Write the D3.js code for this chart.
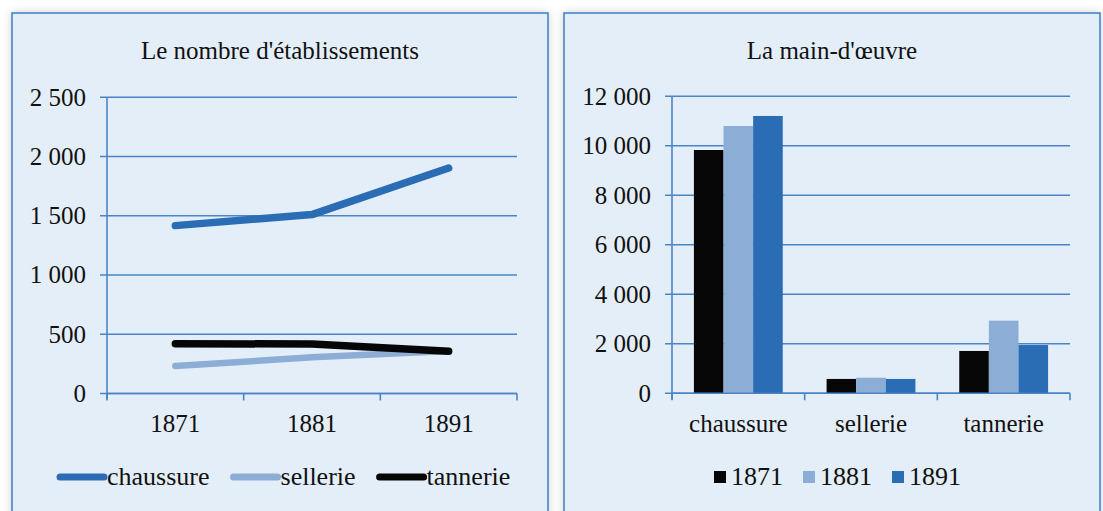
<!DOCTYPE html>
<html><head><meta charset="utf-8">
<script src="https://cdn.jsdelivr.net/npm/d3@7"></script>
<style>
html,body{margin:0;padding:0;background:#fff;}
svg text{font-family:"Liberation Serif","Times New Roman",serif;fill:#111;}
</style></head>
<body>
<svg id="c" width="1103" height="511"></svg>
<script>
// ---- data ----
const years = ["1871","1881","1891"];
const industries = ["chaussure","sellerie","tannerie"];
// Le nombre d'établissements (per industry, per year)
const etabChaussure = [1417, 1510, 1903];
const etabSellerie  = [232, 305, 358];
const etabTannerie  = [420, 418, 356];
// La main-d'œuvre (per year, per industry)
const mo1871 = [9830, 580, 1710];
const mo1881 = [10800, 630, 2935];
const mo1891 = [11205, 580, 1950];
const leftTicks = [0, 500, 1000, 1500, 2000, 2500];
const rightTicks = [0, 2000, 4000, 6000, 8000, 10000, 12000];

const C_DARK = "#2a6db5", C_LIGHT = "#8cadd6", C_BLACK = "#060606";
const GRID = "#4a84c6", BG = "#e4eef8";
const fr = d3.formatLocale({decimal:",", thousands:" ", grouping:[3], currency:["","€"]});
const fmt = fr.format(",d");

const svg = d3.select("#c");
const defs = svg.append("defs");
const f = defs.append("filter").attr("id","sh").attr("x","-5%").attr("y","-5%").attr("width","110%").attr("height","110%");
f.append("feDropShadow").attr("dx",0).attr("dy",0).attr("stdDeviation",4).attr("flood-color","#000").attr("flood-opacity",0.18);

function panel(x0, x1, title) {
  svg.append("rect").attr("x",x0).attr("y",13).attr("width",x1-x0).attr("height",520)
    .attr("fill",BG).attr("stroke","#3d7dc4").attr("stroke-width",1.5).attr("filter","url(#sh)");
  svg.append("text").attr("x",(x0+x1)/2).attr("y",59).attr("text-anchor","middle")
    .style("font-size","25px").text(title);
}
panel(12, 548, "Le nombre d'établissements");
panel(564, 1100, "La main-d'\u0153uvre");

function grid(g, y, ticks, xl, xr, axisX) {
  ticks.forEach(t => {
    g.append("line").attr("x1",xl).attr("x2",xr).attr("y1",y(t)).attr("y2",y(t))
      .attr("stroke",GRID).attr("stroke-width",1.4);
    g.append("text").attr("x",xl-14).attr("y",y(t)).attr("dy","0.33em").attr("text-anchor","end")
      .style("font-size","25px").text(fmt(t));
  });
  g.append("line").attr("x1",axisX).attr("x2",axisX).attr("y1",y(ticks[ticks.length-1])).attr("y2",y(0)+6)
    .attr("stroke",GRID).attr("stroke-width",1.6);
}

// ---- left chart ----
{
  const g = svg.append("g");
  const y = d3.scaleLinear().domain([0,2500]).range([393.5, 97.3]);
  const x = d3.scaleBand().domain(years).range([107, 517]);
  grid(g, y, leftTicks, 100, 517, 107);
  g.append("line").attr("x1",107).attr("x2",517).attr("y1",y(0)).attr("y2",y(0)).attr("stroke",GRID).attr("stroke-width",1.6);
  years.concat(["end"]).forEach((yr,i) => {
    const xx = i < years.length ? x(yr) : x.range()[1];
    g.append("line").attr("x1",xx).attr("x2",xx).attr("y1",y(0)).attr("y2",y(0)+7).attr("stroke",GRID).attr("stroke-width",1.6);
  });
  years.forEach(yr => g.append("text").attr("x",x(yr)+x.bandwidth()/2).attr("y",432).attr("text-anchor","middle")
    .style("font-size","25px").text(yr));
  const series = [
    {name:"chaussure", vals:etabChaussure, color:C_DARK, w:7.5},
    {name:"sellerie", vals:etabSellerie, color:C_LIGHT, w:6.5},
    {name:"tannerie", vals:etabTannerie, color:C_BLACK, w:7.5}
  ];
  const line = d3.line().x((d,i)=>x(years[i])+x.bandwidth()/2).y(d=>y(d)).curve(d3.curveLinear);
  series.forEach(s => g.append("path").attr("d",line(s.vals)).attr("fill","none")
    .attr("stroke",s.color).attr("stroke-width",s.w).attr("stroke-linecap","round").attr("stroke-linejoin","round"));
  // legend
  let lx = 57;
  series.forEach(s => {
    g.append("line").attr("x1",lx+3).attr("x2",lx+47).attr("y1",477).attr("y2",477)
      .attr("stroke",s.color).attr("stroke-width",7).attr("stroke-linecap","round");
    const t = g.append("text").attr("x",lx+50).attr("y",485).style("font-size","26px").text(s.name);
    lx += 50 + t.node().getComputedTextLength() + 21;
  });
}

// ---- right chart ----
{
  const g = svg.append("g");
  const y = d3.scaleLinear().domain([0,12000]).range([393.3, 96.3]);
  const x0 = d3.scaleBand().domain(industries).range([672, 1070]);
  const x1 = d3.scaleBand().domain(years).range([0, x0.bandwidth()]).paddingOuter(0.74);
  grid(g, y, rightTicks, 665, 1070, 672);
  const data = {"1871":mo1871, "1881":mo1881, "1891":mo1891};
  const colors = {"1871":C_BLACK, "1881":C_LIGHT, "1891":C_DARK};
  industries.forEach((ind,i) => {
    years.forEach(yr => {
      g.append("rect").attr("x",x0(ind)+x1(yr)).attr("width",x1.bandwidth())
        .attr("y",y(data[yr][i])).attr("height",y(0)-y(data[yr][i])).attr("fill",colors[yr]);
    });
    g.append("text").attr("x",x0(ind)+x0.bandwidth()/2).attr("y",432).attr("text-anchor","middle")
      .style("font-size","25px").text(ind);
  });
  g.append("line").attr("x1",672).attr("x2",1070).attr("y1",y(0)).attr("y2",y(0)).attr("stroke",GRID).attr("stroke-width",1.6);
  industries.concat(["end"]).forEach((ind,i) => {
    const xx = i < industries.length ? x0(ind) : x0.range()[1];
    g.append("line").attr("x1",xx).attr("x2",xx).attr("y1",y(0)).attr("y2",y(0)+7).attr("stroke",GRID).attr("stroke-width",1.6);
  });
  let lx = 714;
  years.forEach(yr => {
    g.append("rect").attr("x",lx).attr("y",471).attr("width",12).attr("height",12).attr("fill",colors[yr]);
    const t = g.append("text").attr("x",lx+17).attr("y",485).style("font-size","26px").text(yr);
    lx += 17 + t.node().getComputedTextLength() + 20;
  });
}
</script>
</body></html>
